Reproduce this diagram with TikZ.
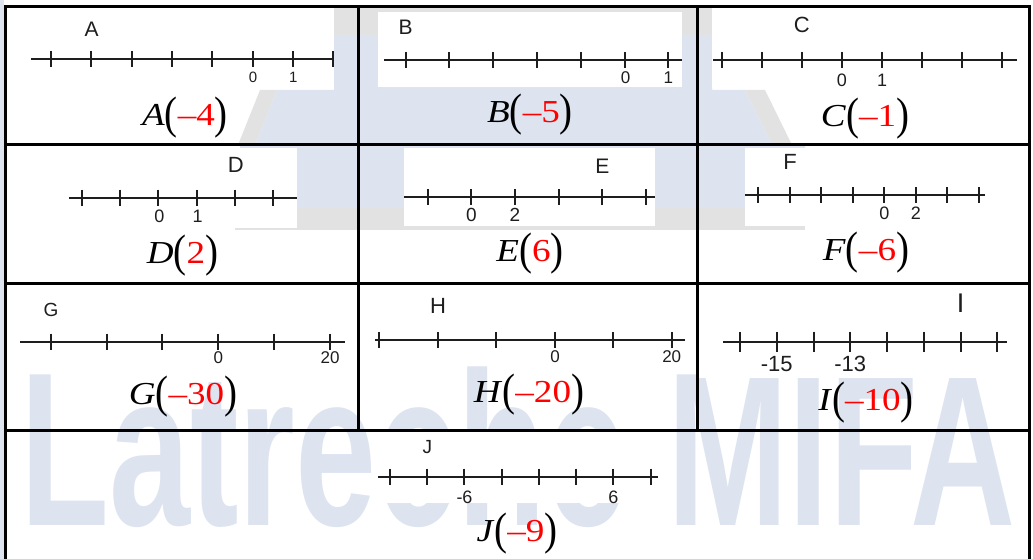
\documentclass[tikz,border=0pt]{standalone}
\usepackage{fontspec}
\usepackage{graphicx}
\setmainfont{Liberation Serif}
\newfontfamily\arialf{Liberation Sans}
\definecolor{wmblue}{RGB}{221,228,240}
\definecolor{wmgray}{RGB}{226,226,226}
\definecolor{axiscol}{RGB}{30,30,30}
\newcommand\fs[1]{\fontsize{#1}{#1}\selectfont}
\newcommand\bigpar[1]{\raisebox{-3.2pt}{\scalebox{1.05}[1.42]{#1}}}
\newcommand\ptcoord[2]{\scalebox{1.16}[1]{\fs{32}\textit{#1}\bigpar{(}\textcolor{red}{#2}\bigpar{)}}}
\newcommand\numline[7]{%
  \draw[axisline] (#1,#3) -- (#2,#3);
  \foreach \k in {1,...,#6}{\draw[tickmark] ({#4+(\k-1)*#5},{#3-#7}) -- ({#4+(\k-1)*#5},{#3+#7});}
}
\tikzset{
  gridline/.style={line width=3pt, draw=black},
  axisline/.style={line width=2pt, draw=axiscol},
  tickmark/.style={line width=2pt, draw=axiscol},
  ptname/.style={inner sep=0pt, text=axiscol, font=\arialf, anchor=center},
  ticklab/.style={inner sep=0pt, text=axiscol, font=\arialf, anchor=center},
  coordlab/.style={inner sep=0pt, anchor=base},
  bluefill/.style={fill=wmblue, draw=none},
  grayfill/.style={fill=wmgray, draw=none},
  patch/.style={fill=white, draw=none},
  wmtext/.style={inner sep=0pt, anchor=base west, text=wmblue, font=\arialf\bfseries},
}
\begin{document}
\begin{tikzpicture}[x=1pt,y=-1pt]
\useasboundingbox (0,0) rectangle (1033,559);
\fill[white] (0,0) rectangle (1033,559);
% watermark background
\fill[bluefill] (0,0) rectangle (4,559);
\fill[grayfill] (334,8) rectangle (712,35);
\fill[bluefill] (334,35) -- (712,35) -- (712,90) -- (745,90) -- (772,145) -- (805,145) -- (805,208)
  -- (240,208) -- (240,145) -- (255,145) -- (277,90) -- (334,90) -- cycle;
\fill[grayfill] (260,90) -- (277,90) -- (255,145) -- (238,145) -- cycle;
\fill[grayfill] (745,90) -- (765,90) -- (792,145) -- (772,145) -- cycle;
\fill[grayfill] (235,208) rectangle (805,230);
\node[wmtext] (wm) at (20,525) {\scalebox{0.665}[1]{\fs{219}Latreche MIFA}};
% white patches
\fill[patch] (378,12) rectangle (682,87);
\fill[patch] (712,8) rectangle (1028,88);
\fill[patch] (60,148) rectangle (297,228);
\fill[patch] (404,148) rectangle (655,226);
\fill[patch] (745,148) rectangle (1028,226);
\fill[patch] (699,286) rectangle (1028,378);
\fill[patch] (378,432) rectangle (668,503);
% A
\numline{31}{334}{59}{51}{40.3}{8}{8}
\node[ptname] (Aname) at (91.7,29) {\fs{21}A};
\node[ticklab] (A0) at (253,77) {\fs{15}0};
\node[ticklab] (A1) at (293.3,77) {\fs{15}1};
\node[coordlab] (Alab) at (185,125) {\ptcoord{A}{–4}};
% B
\numline{384}{682}{60}{405.7}{43.77}{7}{8}
\node[ptname] (Bname) at (405.7,27) {\fs{21}B};
\node[ticklab] (B0) at (625.5,77.5) {\fs{17}0};
\node[ticklab] (B1) at (668.3,77.5) {\fs{17}1};
\node[coordlab] (Blab) at (530,122.7) {\ptcoord{B}{–5}};
% C
\numline{713}{1017}{60}{721.7}{40.09}{8}{8}
\node[ptname] (Cname) at (801.7,25) {\fs{22}C};
\node[ticklab] (C0) at (841.9,80) {\fs{18}0};
\node[ticklab] (C1) at (882,80) {\fs{18}1};
\node[coordlab] (Clab) at (865,126.7) {\ptcoord{C}{–1}};
% D
\numline{69}{297}{197.7}{81.7}{38.32}{6}{8}
\node[ptname] (Dname) at (235.7,165) {\fs{22}D};
\node[ticklab] (D0) at (159.3,216.7) {\fs{18}0};
\node[ticklab] (D1) at (197.7,216.7) {\fs{18}1};
\node[coordlab] (Dlab) at (182.5,263) {\ptcoord{D}{2}};
% E
\numline{404}{655}{197.3}{427.7}{43.6}{6}{8}
\node[ptname] (Ename) at (602.3,166.3) {\fs{21}E};
\node[ticklab] (E0) at (471.3,215.3) {\fs{19}0};
\node[ticklab] (E2) at (514.9,215.3) {\fs{19}2};
\node[coordlab] (Elab) at (530,261.7) {\ptcoord{E}{6}};
% F
\numline{745}{985}{195}{758.3}{31.53}{8}{8}
\node[ptname] (Fname) at (790,162) {\fs{22}F};
\node[ticklab] (F0) at (884.4,213.3) {\fs{18}0};
\node[ticklab] (F2) at (915.9,213.3) {\fs{18}2};
\node[coordlab] (Flab) at (866,260.7) {\ptcoord{F}{–6}};
% G
\numline{20}{345}{341.7}{50.7}{55.86}{6}{8}
\node[ptname] (Gname) at (51,310) {\fs{19}G};
\node[ticklab] (G0) at (218.3,358) {\fs{17}0};
\node[ticklab] (G20) at (330,358) {\fs{17}20};
\node[coordlab] (Glab) at (183,404) {\ptcoord{G}{–30}};
% H
\numline{375}{685}{340}{379}{58.54}{6}{8}
\node[ptname] (Hname) at (438,306.3) {\fs{22}H};
\node[ticklab] (H0) at (555.2,356.7) {\fs{17}0};
\node[ticklab] (H20) at (671.7,356.7) {\fs{17}20};
\node[coordlab] (Hlab) at (529,402.7) {\ptcoord{H}{–20}};
% I
\numline{723}{1007}{341.7}{740}{36.76}{8}{10}
\node[ptname] (Iname) at (960.7,303.7) {\fs{27}I};
\node[ticklab] (I15) at (776.8,364.3) {\fs{22}-15};
\node[ticklab] (I13) at (850.3,364.3) {\fs{22}-13};
\node[coordlab] (Ilab) at (866,410) {\ptcoord{I}{–10}};
% J
\numline{378}{658}{476.7}{390}{37.24}{8}{8}
\node[ptname] (Jname) at (427.3,446.7) {\fs{19}J};
\node[ticklab] (Jm6) at (464.5,497) {\fs{18}-6};
\node[ticklab] (J6) at (613.4,497) {\fs{18}6};
\node[coordlab] (Jlab) at (517,541.7) {\ptcoord{J}{–9}};
% grid
\draw[gridline] (5,559) -- (5,7) -- (1029.5,7) -- (1029.5,559);
\draw[gridline] (5,145) -- (1029.5,145);
\draw[gridline] (5,283.5) -- (1029.5,283.5);
\draw[gridline] (5,430) -- (1029.5,430);
\draw[gridline] (358.5,7) -- (358.5,430);
\draw[gridline] (697.5,7) -- (697.5,430);
\end{tikzpicture}
\end{document}
